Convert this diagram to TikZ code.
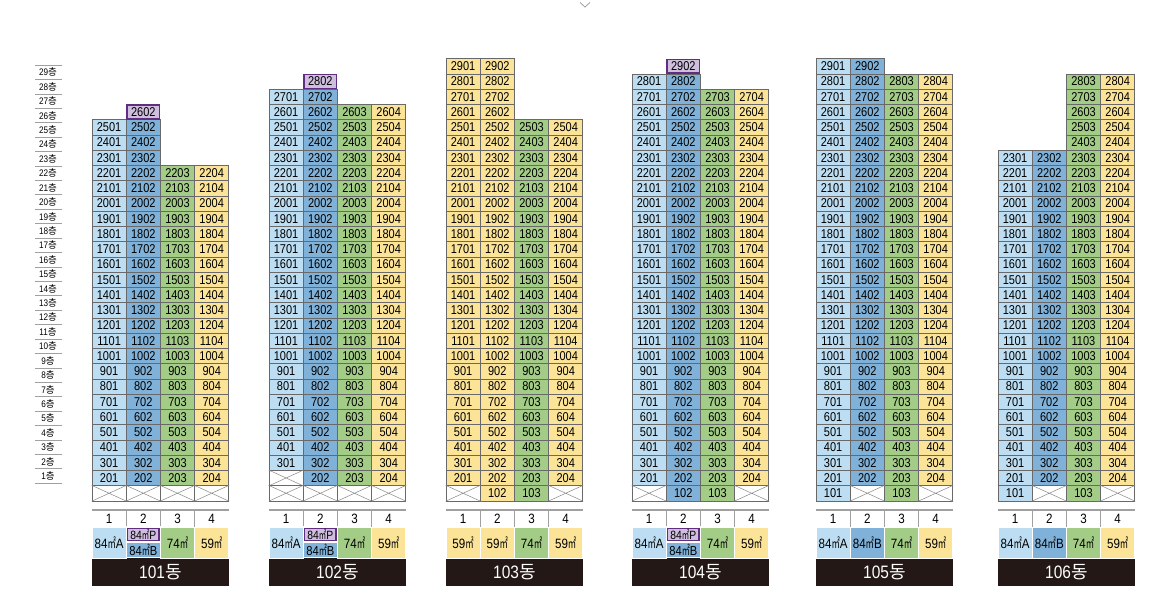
\documentclass[tikz,border=0pt]{standalone}
\usepackage{fontspec}
\usepackage{graphicx}
\setmainfont[FakeStretch=0.86]{Liberation Sans}
\newfontfamily\krfont{Noto Sans CJK KR}
\usetikzlibrary{calc}

\definecolor{aptA}{RGB}{189,222,242}
\definecolor{aptB}{RGB}{128,177,216}
\definecolor{aptC}{RGB}{163,204,135}
\definecolor{aptD}{RGB}{251,227,152}
\definecolor{aptP}{RGB}{207,190,222}
\definecolor{aptPline}{RGB}{96,46,128}
\definecolor{gridgray}{RGB}{105,105,105}
\definecolor{rulegray}{RGB}{160,160,160}
\definecolor{barblack}{RGB}{35,24,21}

\newcommand{\sqm}{{\scalebox{0.62}[1]{\krfont ㎡}}}
\newcommand{\dong}{{\krfont 동}}
\newcommand{\cheung}{{\krfont 층}}

% grid sizes (px)
\newcommand{\cellw}{34.2}
\newcommand{\cellh}{15.25}
\newcommand{\bldw}{136.8}
% building left edges
\newcommand{\bxa}{92}
\newcommand{\bxb}{269}
\newcommand{\bxc}{446}
\newcommand{\bxd}{632}
\newcommand{\bxe}{816}
\newcommand{\bxf}{998}

% one column of units: tag, x0, col, from floor, to floor, style
\newcommand{\unitcol}[6]{%
  \foreach \f in {#4,...,#5}{
    \node[#6] (u#1-\f-#3) at ({#2+(#3-0.5)*\cellw}, {478-(\f-2)*\cellh})
      {\the\numexpr\f*100+#3\relax};
  }}
% top unit in purple frame: tag, x0, col, floor
\newcommand{\topunit}[4]{%
  \node[cellP] (u#1-#4-#3) at ({#2+(#3-0.5)*\cellw}, {478-(#4-2)*\cellh})
    {\the\numexpr#4*100+#3\relax};}
% empty (pilotis) cell: tag, x0, col, floor
\newcommand{\pilotis}[4]{%
  \node[cellX] (x#1-#4-#3) at ({#2+(#3-0.5)*\cellw}, {478-(#4-2)*\cellh}) {};
  \draw[xline] (x#1-#4-#3.north west) -- (x#1-#4-#3.south east)
    (x#1-#4-#3.north east) -- (x#1-#4-#3.south west);}
% line numbers and name bar: tag, x0
\newcommand{\bldfoot}[2]{%
  \draw[hdrrule] (#2,509.5) -- (#2+\bldw,509.5);
  \foreach \c in {1,...,4}{
    \node[hdrnum] (h#1-\c) at ({#2+(\c-0.5)*\cellw}, 519) {\c};
  }
  \foreach \c in {1,2,3}{
    \draw[hdrsep] ({#2+\c*\cellw}, 509) -- ({#2+\c*\cellw}, 527);
  }
  \node[namebar] (n#1) at ({#2+0.5*\bldw}, 572) {#1\dong};}
% size cell: tag, x0, col, style, text
\newcommand{\sizecell}[5]{%
  \node[#4, sizebox] (s#1-#3) at ({#2+(#3-0.5)*\cellw}, 542.5) {#5};}
% split size cell (84P over 84B): tag, x0
\newcommand{\splitcell}[2]{%
  \node[sizehalf, fill=white] (sp#1) at ({#2+1.5*\cellw}, 534.25) {};
  \node[sizePbox] (sP#1) at ({#2+1.5*\cellw}, 534.6) {84\sqm P};
  \node[sizehalf, fill=aptB] (sB#1) at ({#2+1.5*\cellw}, 549.75) {84\sqm B};}

\begin{document}
\begin{tikzpicture}[x=1pt,y=-1pt,
    cellbase/.style={draw=gridgray, line width=0.7pt, minimum width=\cellw pt,
      minimum height=\cellh pt, inner sep=0pt,
      font=\fontsize{12.8}{13}\selectfont},
    cellA/.style={cellbase, fill=aptA},
    cellB/.style={cellbase, fill=aptB},
    cellC/.style={cellbase, fill=aptC},
    cellD/.style={cellbase, fill=aptD},
    cellP/.style={cellbase, fill=aptP, draw=aptPline, line width=1.4pt,
      minimum width=\cellw pt-1.4pt, minimum height=\cellh pt-1.4pt},
    cellX/.style={cellbase, fill=white},
    xline/.style={draw=gridgray!80, line width=0.5pt},
    flrlbl/.style={font=\fontsize{9.5}{9.5}\selectfont, inner sep=0pt},
    flrrule/.style={draw=rulegray, line width=0.6pt},
    hdrrule/.style={draw=rulegray, line width=2pt},
    hdrsep/.style={draw=rulegray, line width=1pt},
    hdrnum/.style={font=\fontsize{13.5}{13.5}\selectfont, inner sep=0pt},
    sizebox/.style={draw=white, line width=1pt, minimum width=\cellw pt,
      minimum height=31pt, inner sep=0pt, font=\fontsize{13.5}{13.5}\selectfont},
    sizehalf/.style={draw=white, line width=1pt, minimum width=\cellw pt,
      minimum height=15.5pt, inner sep=0pt, font=\fontsize{13}{13}\selectfont},
    sizePbox/.style={draw=aptPline, fill=aptP, line width=1.4pt,
      minimum width=\cellw pt-3pt, minimum height=12pt, inner sep=0pt,
      font=\fontsize{12}{12}\selectfont},
    namebar/.style={fill=barblack, text=white, minimum width=\bldw pt,
      minimum height=28pt, inner sep=0pt, font=\fontsize{18}{18}\selectfont}]
  \useasboundingbox (0,0) rectangle (1157,604);

  % little chevron at top
  \draw[draw=rulegray, line width=0.8pt] (580,2.5) -- (585,7) -- (590,2.5);

  % floor labels
  \foreach \k in {1,...,29}{
    \node[flrlbl] (fl\k) at (48, {476-(\k-1)*14.42}) {\k\cheung};
  }
  \foreach \k in {0,...,29}{
    \draw[flrrule] (35, {483.2-\k*14.42}) -- (62, {483.2-\k*14.42});
  }

  % 101
  \unitcol{101}{\bxa}{1}{2}{25}{cellA}
  \unitcol{101}{\bxa}{2}{2}{25}{cellB}
  \unitcol{101}{\bxa}{3}{2}{22}{cellC}
  \unitcol{101}{\bxa}{4}{2}{22}{cellD}
  \topunit{101}{\bxa}{2}{26}
  \pilotis{101}{\bxa}{1}{1}
  \pilotis{101}{\bxa}{2}{1}
  \pilotis{101}{\bxa}{3}{1}
  \pilotis{101}{\bxa}{4}{1}
  \bldfoot{101}{\bxa}
  \sizecell{101}{\bxa}{1}{fill=aptA}{84\sqm A}
  \splitcell{101}{\bxa}
  \sizecell{101}{\bxa}{3}{fill=aptC}{74\sqm}
  \sizecell{101}{\bxa}{4}{fill=aptD}{59\sqm}

  % 102
  \unitcol{102}{\bxb}{1}{3}{27}{cellA}
  \unitcol{102}{\bxb}{2}{2}{27}{cellB}
  \unitcol{102}{\bxb}{3}{2}{26}{cellC}
  \unitcol{102}{\bxb}{4}{2}{26}{cellD}
  \topunit{102}{\bxb}{2}{28}
  \pilotis{102}{\bxb}{1}{2}
  \pilotis{102}{\bxb}{1}{1}
  \pilotis{102}{\bxb}{2}{1}
  \pilotis{102}{\bxb}{3}{1}
  \pilotis{102}{\bxb}{4}{1}
  \bldfoot{102}{\bxb}
  \sizecell{102}{\bxb}{1}{fill=aptA}{84\sqm A}
  \splitcell{102}{\bxb}
  \sizecell{102}{\bxb}{3}{fill=aptC}{74\sqm}
  \sizecell{102}{\bxb}{4}{fill=aptD}{59\sqm}

  % 103
  \unitcol{103}{\bxc}{1}{2}{29}{cellD}
  \unitcol{103}{\bxc}{2}{1}{29}{cellD}
  \unitcol{103}{\bxc}{3}{1}{25}{cellC}
  \unitcol{103}{\bxc}{4}{2}{25}{cellD}
  \pilotis{103}{\bxc}{1}{1}
  \pilotis{103}{\bxc}{4}{1}
  \bldfoot{103}{\bxc}
  \sizecell{103}{\bxc}{1}{fill=aptD}{59\sqm}
  \sizecell{103}{\bxc}{2}{fill=aptD}{59\sqm}
  \sizecell{103}{\bxc}{3}{fill=aptC}{74\sqm}
  \sizecell{103}{\bxc}{4}{fill=aptD}{59\sqm}

  % 104
  \unitcol{104}{\bxd}{1}{2}{28}{cellA}
  \unitcol{104}{\bxd}{2}{1}{28}{cellB}
  \unitcol{104}{\bxd}{3}{1}{27}{cellC}
  \unitcol{104}{\bxd}{4}{2}{27}{cellD}
  \topunit{104}{\bxd}{2}{29}
  \pilotis{104}{\bxd}{1}{1}
  \pilotis{104}{\bxd}{4}{1}
  \bldfoot{104}{\bxd}
  \sizecell{104}{\bxd}{1}{fill=aptA}{84\sqm A}
  \splitcell{104}{\bxd}
  \sizecell{104}{\bxd}{3}{fill=aptC}{74\sqm}
  \sizecell{104}{\bxd}{4}{fill=aptD}{59\sqm}

  % 105
  \unitcol{105}{\bxe}{1}{1}{29}{cellA}
  \unitcol{105}{\bxe}{2}{2}{29}{cellB}
  \unitcol{105}{\bxe}{3}{1}{28}{cellC}
  \unitcol{105}{\bxe}{4}{2}{28}{cellD}
  \pilotis{105}{\bxe}{2}{1}
  \pilotis{105}{\bxe}{4}{1}
  \bldfoot{105}{\bxe}
  \sizecell{105}{\bxe}{1}{fill=aptA}{84\sqm A}
  \sizecell{105}{\bxe}{2}{fill=aptB}{84\sqm B}
  \sizecell{105}{\bxe}{3}{fill=aptC}{74\sqm}
  \sizecell{105}{\bxe}{4}{fill=aptD}{59\sqm}

  % 106
  \unitcol{106}{\bxf}{1}{1}{23}{cellA}
  \unitcol{106}{\bxf}{2}{2}{23}{cellB}
  \unitcol{106}{\bxf}{3}{1}{28}{cellC}
  \unitcol{106}{\bxf}{4}{2}{28}{cellD}
  \pilotis{106}{\bxf}{2}{1}
  \pilotis{106}{\bxf}{4}{1}
  \bldfoot{106}{\bxf}
  \sizecell{106}{\bxf}{1}{fill=aptA}{84\sqm A}
  \sizecell{106}{\bxf}{2}{fill=aptB}{84\sqm B}
  \sizecell{106}{\bxf}{3}{fill=aptC}{74\sqm}
  \sizecell{106}{\bxf}{4}{fill=aptD}{59\sqm}
\end{tikzpicture}
\end{document}
